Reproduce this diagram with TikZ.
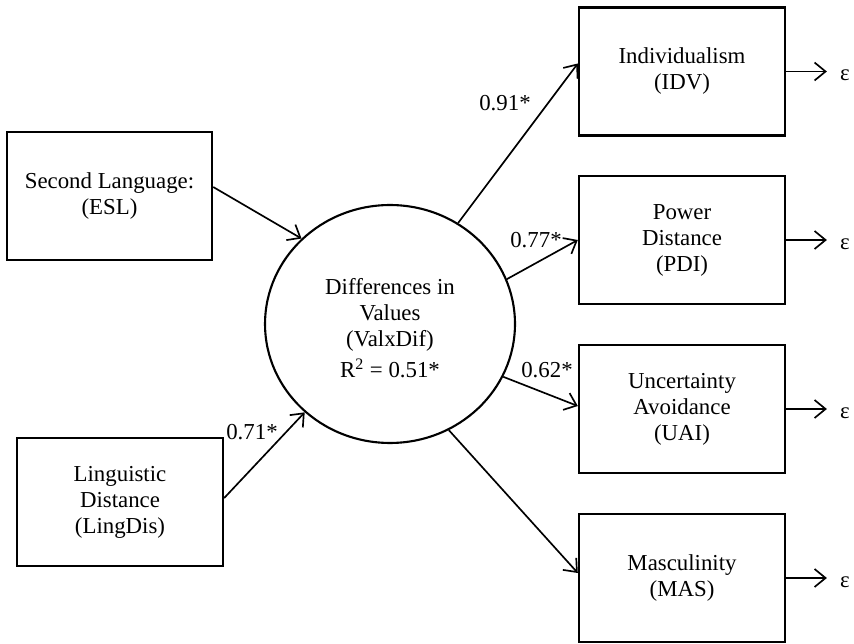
\documentclass[tikz,border=0pt]{standalone}
\usepackage{fontspec}
\setmainfont{Liberation Serif}
\usetikzlibrary{arrows.meta,shapes.geometric}

\begin{document}
\begin{tikzpicture}[x=0.02cm,y=-0.02cm,
        txt/.style={font=\fontsize{13}{14.8}\selectfont},
        var/.style={txt,draw,line width=1.4pt,minimum width=4.12cm,minimum height=2.56cm,inner sep=0pt,align=center},
        eff/.style={line width=0.95pt,-{Straight Barb[length=2.2mm,width=3.6mm]}}]
        \useasboundingbox (0,0) rectangle (854,644);
        % predictors
            \node[var,minimum width=4.1cm] (ESL) at (109.5,196) {Second Language:\\(ESL)};
            \node[var] (LingDis) at (120,502) {Linguistic\\Distance\\(LingDis)};
        % latent variable
            \node[txt,draw,ellipse,line width=1.2pt,minimum width=5cm,minimum height=4.76cm,inner sep=0pt,align=center] (ValxDif) at (390,324) {};
            \node[txt,align=center] (ValxDifText) at (390,328) {Differences in\\Values\\(ValxDif)\\[3pt]R\textsuperscript{2} = 0.51*};
        % indicators
            \foreach \y/\v/\t in {71.5/IDV/{Individualism\\(IDV)},240/PDI/{Power\\Distance\\(PDI)},409/UAI/{Uncertainty\\Avoidance\\(UAI)},578/MAS/{Masculinity\\(MAS)}}{
                \node[var] (\v) at (682,\y) {\t};
                \node[txt,inner xsep=2.6mm,inner ysep=0pt] (e\v) at (845,\y+4) {ε};
                \draw[eff] (\v.east) -- (\v.east -| e\v.west);
            }
        % paths
            \draw[eff] ([yshift=0.18cm]ESL.east) -- (ValxDif.136);
            \draw[eff] ([yshift=0.08cm]LingDis.east) -- (ValxDif.-134);
            \foreach \a/\v/\s in {56/IDV/8,21/PDI/0,-25/UAI/3,-61/MAS/5}{
                \draw[eff] (ValxDif.\a) -- ([yshift=\s*0.02cm]\v.west);
            }
        % coefficients
            \node[txt] (cIDV) at (505,103) {0.91*};
            \node[txt] (cPDI) at (536,240) {0.77*};
            \node[txt] (cUAI) at (547,370) {0.62*};
            \node[txt] (cLing) at (252,432) {0.71*};
\end{tikzpicture}
\end{document}
